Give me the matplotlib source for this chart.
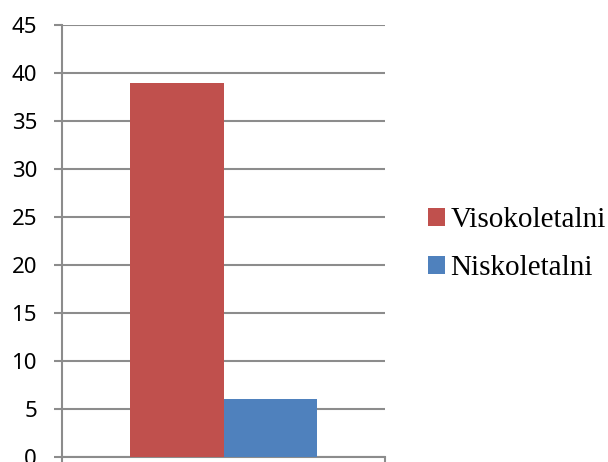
import matplotlib
matplotlib.use("Agg")
import matplotlib.pyplot as plt
import numpy as np

series_names = ["Visokoletalni", "Niskoletalni"]
series_values = [39, 6]
series_colors = ["#C0504D", "#4F81BD"]
y_ticks = [0, 5, 10, 15, 20, 25, 30, 35, 40, 45]

fig = plt.figure(figsize=(6.08, 4.62), dpi=100)
ax = fig.add_axes([62 / 608, 5 / 462, (385 - 62) / 608, (457 - 25) / 462])

grid_color = "#8C8C8C"
bar_w = 0.288
offsets = [-bar_w / 2, bar_w / 2]
handles = []
for name, val, col, off in zip(series_names, series_values, series_colors, offsets):
    h = ax.bar(off, val, width=bar_w, color=col, label=name, zorder=3)
    handles.append(h)

ax.set_xlim(-0.5, 0.5)
ax.set_ylim(0, 45)
ax.set_yticks(y_ticks)
ax.set_yticklabels([str(t) for t in y_ticks], fontfamily="Noto Sans", fontsize=16)
ax.set_xticks([-0.5, 0.5])
ax.set_xticklabels(["", ""])
ax.tick_params(axis="y", length=6, width=1.5, color=grid_color, pad=12)
ax.tick_params(axis="x", length=6, width=1.5, color=grid_color)
ax.yaxis.grid(True, color=grid_color, linewidth=1.5, zorder=0)
ax.set_axisbelow(True)
for s in ["top", "right"]:
    ax.spines[s].set_visible(False)
for s in ["left", "bottom"]:
    ax.spines[s].set_color(grid_color)
    ax.spines[s].set_linewidth(1.5)

leg = fig.legend(handles=handles, labels=series_names, loc="center left",
                 bbox_to_anchor=(413 / 608, 1 - 244 / 462), frameon=False,
                 prop={"family": "Liberation Serif", "size": 21},
                 handlelength=0.58, handleheight=0.58, handletextpad=0.2,
                 labelspacing=0.75, borderpad=0)

fig.savefig("out.png", dpi=100)
